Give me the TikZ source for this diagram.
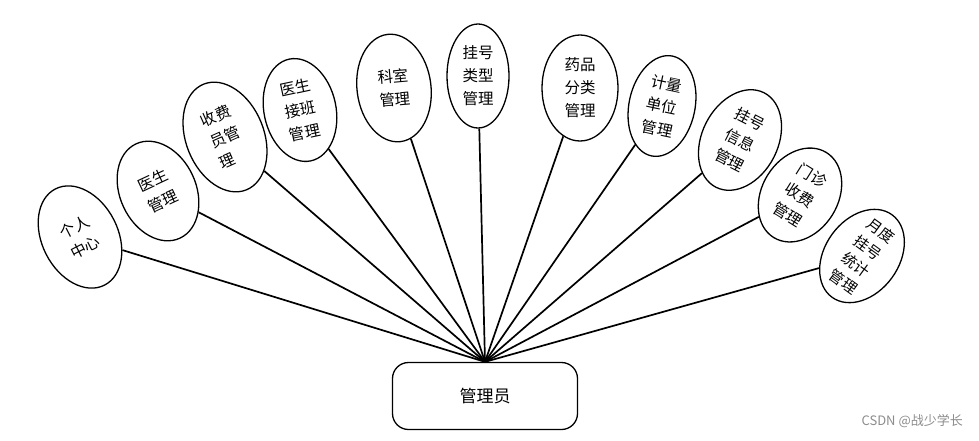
\documentclass[tikz,border=0pt]{standalone}
\usepackage{fontspec}
\setmainfont{Noto Sans CJK SC}
\usetikzlibrary{shapes.geometric}
\tikzset{
  oval/.style={draw, line width=1.3pt, ellipse, inner sep=0pt, fill=white},
  otext/.style={inner sep=0pt, align=left, font=\fontsize{15.5}{23}\selectfont},
  link/.style={line width=1.7pt},
  rootbox/.style={draw, line width=1.3pt, rounded corners=16pt, minimum width=185pt, minimum height=67pt, font=\fontsize{17}{20}\selectfont, fill=white}
}
\begin{document}
\begin{tikzpicture}[x=1pt,y=-1pt]
\useasboundingbox (0,0) rectangle (979,440);
\node[rootbox] (root) at (485,396) {管理员};
\coordinate (apex) at (root.north);
% ellipses: center, half-width, half-height, rotation
\foreach \n/\cx/\cy/\a/\b/\r in {
  e1/80/237/38/54/27, e2/158/191/38/52/25, e3/225/137/39/57/22,
  e4/300/110/36/52/12, e5/394/88/37/54/7, e6/478/76/31/52/0,
  e7/580/88/38/53/0, e8/662/106/33/51/-12, e9/740/140/38/53/-27,
  e10/800/195/38/50/-32, e11/862/256/37/51/-36}
{
  \node[oval, minimum width=2*\a pt, minimum height=2*\b pt, rotate=\r] (\n) at (\cx,\cy) {};
}
\foreach \n in {e1,e2,e3,e4,e5,e6,e7,e8,e9,e10,e11}
  \draw[link] (apex) -- (\n);
\node[otext, rotate=27] (t1) at (e1) {个人\\中心};
\node[otext, rotate=25] (t2) at (e2) {医生\\管理};
\node[otext, rotate=24] (t3) at (e3) {收费\\员管\\理};
\node[otext, rotate=12] (t4) at (e4) {医生\\接班\\管理};
\node[otext, rotate=5] (t5) at (e5) {科室\\管理};
\node[otext] (t6) at (e6) {挂号\\类型\\管理};
\node[otext] (t7) at (e7) {药品\\分类\\管理};
\node[otext, rotate=-12] (t8) at (e8) {计量\\单位\\管理};
\node[otext, rotate=-27] (t9) at (e9) {挂号\\信息\\管理};
\node[otext, rotate=-32] (t10) at (e10) {门诊\\收费\\管理};
\node[otext, rotate=-36, font=\fontsize{15}{21}\selectfont] (t11) at (e11) {月度\\挂号\\统计\\管理};
\node[anchor=east, text=black!45, inner sep=0pt, font=\fontsize{13}{15}\selectfont] (wm) at (963,421) {CSDN @战少学长};
\end{tikzpicture}
\end{document}
